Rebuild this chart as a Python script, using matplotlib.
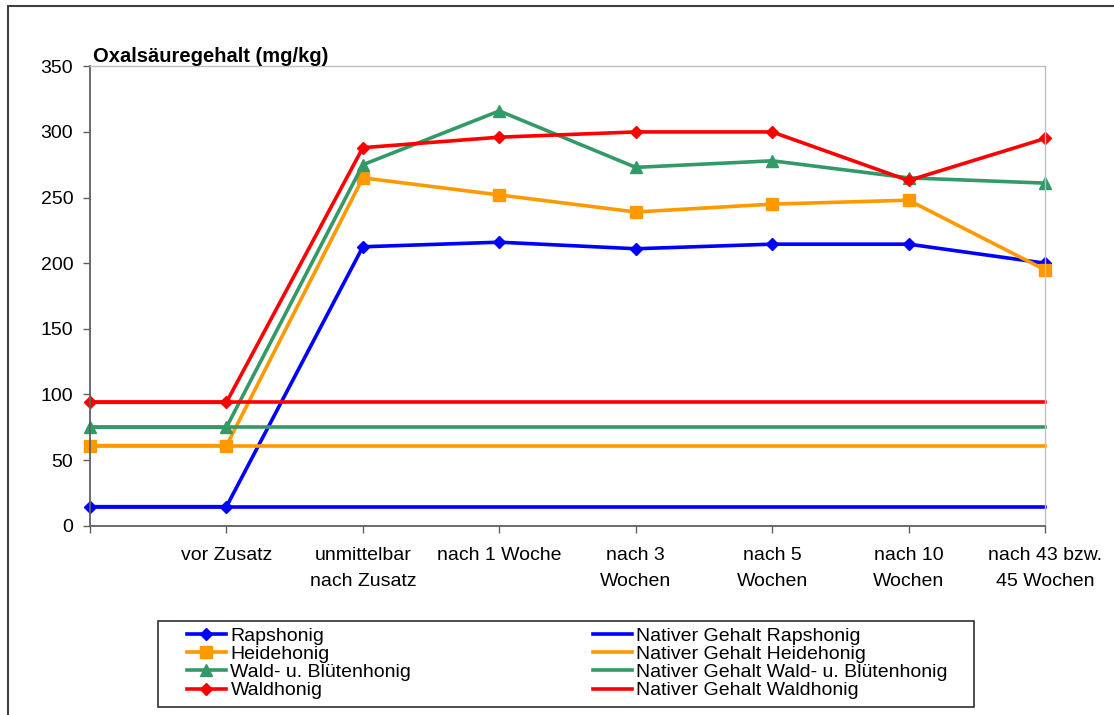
import matplotlib
matplotlib.use("Agg")
import matplotlib.pyplot as plt
from matplotlib.patches import Rectangle

plt.rcParams['font.family'] = ['Liberation Sans', 'DejaVu Sans']

# ---------------- data ----------------
categories = ["", "vor Zusatz", "unmittelbar\nnach Zusatz", "nach 1 Woche",
              "nach 3\nWochen", "nach 5\nWochen", "nach 10\nWochen",
              "nach 43 bzw.\n45 Wochen"]
rapshonig = [14.5, 14.5, 212.5, 216, 211, 214.5, 214.5, 200]
heidehonig = [61, 61, 265, 252, 239, 245, 248, 195]
wald_bluetenhonig = [75, 75, 275, 316, 273, 278, 265, 261]
waldhonig = [94, 94, 288, 296, 300, 300, 263, 295]
nativ_raps = [14.5, 14.5, 14.5, 14.5, 14.5, 14.5, 14.5, 14.5]
nativ_heide = [61, 61, 61, 61, 61, 61, 61, 61]
nativ_wb = [75, 75, 75, 75, 75, 75, 75, 75]
nativ_wald = [94, 94, 94, 94, 94, 94, 94, 94]
yticks = [0, 50, 100, 150, 200, 250, 300, 350]
title = "Oxalsäuregehalt (mg/kg)"

series = [
    ("Rapshonig", rapshonig, "#0000FF", "D", 6.5),
    ("Heidehonig", heidehonig, "#FF9900", "s", 9),
    ("Wald- u. Blütenhonig", wald_bluetenhonig, "#339966", "^", 8.5),
    ("Waldhonig", waldhonig, "#FF0000", "D", 6.5),
]
native = [
    ("Nativer Gehalt Rapshonig", nativ_raps, "#0000FF"),
    ("Nativer Gehalt Heidehonig", nativ_heide, "#FF9900"),
    ("Nativer Gehalt Wald- u. Blütenhonig", nativ_wb, "#339966"),
    ("Nativer Gehalt Waldhonig", nativ_wald, "#FF0000"),
]

W, H = 1114, 715
fig = plt.figure(figsize=(W / 100, H / 100), dpi=100)
fig.patch.set_facecolor("white")

ax = fig.add_axes([90 / W, 1 - 525.7 / H, 955 / W, 459.4 / H])
x = list(range(len(categories)))

handles_main = []
for name, vals, col, mk, ms in series:
    h, = ax.plot(x, vals, color=col, lw=2.6, marker=mk, markersize=ms,
                 markeredgecolor=col, markerfacecolor=col, label=name,
                 solid_joinstyle="round", clip_on=False)
    handles_main.append(h)
handles_nat = []
for name, vals, col in native:
    h, = ax.plot(x, vals, color=col, lw=2.6, label=name, clip_on=False)
    handles_nat.append(h)

ax.set_xlim(0, len(categories) - 1)
ax.set_ylim(yticks[0], yticks[-1])
ax.set_yticks(yticks)
ax.set_xticks(x)
ax.set_xticklabels(categories, fontsize=14, linespacing=1.72, ha="center")
ax.tick_params(axis="y", labelsize=14, direction="out", length=5, width=1,
               color="#606060", pad=7)
ax.tick_params(axis="x", direction="out", length=5, width=1,
               color="#606060", pad=10)
for s in ["left", "bottom"]:
    ax.spines[s].set_color("#606060")
    ax.spines[s].set_linewidth(1.3)
for s in ["top", "right"]:
    ax.spines[s].set_color("#C0C0C0")
    ax.spines[s].set_linewidth(1.0)

fig.text(93 / W, 1 - 62 / H, title, fontsize=14.5, fontweight="bold",
         ha="left", va="baseline")

# legend (two columns)
handles = handles_main + handles_nat
labels = [h.get_label() for h in handles]
leg = fig.legend(handles, labels, ncol=2, mode="expand", frameon=False,
                 loc="upper left",
                 bbox_to_anchor=(186.7 / W, 1 - 627 / H, (948 - 186.7) / W, 0),
                 bbox_transform=fig.transFigure, borderaxespad=0,
                 borderpad=0, fontsize=14, labelspacing=0.035,
                 handlelength=2.0, handletextpad=0.25, columnspacing=1.0)
fig.add_artist(Rectangle((158 / W, 1 - 707 / H), (974 - 158) / W, (707 - 620.7) / H,
                         transform=fig.transFigure, fill=False,
                         edgecolor="#303030", linewidth=1.2))

# chart-area border (left and top visible)
fig.add_artist(Rectangle((8 / W, -0.05), 1.1, 1.05 - 6 / H,
                         transform=fig.transFigure, fill=False,
                         edgecolor="#404040", linewidth=1.5))

fig.savefig("out.png", dpi=100)
